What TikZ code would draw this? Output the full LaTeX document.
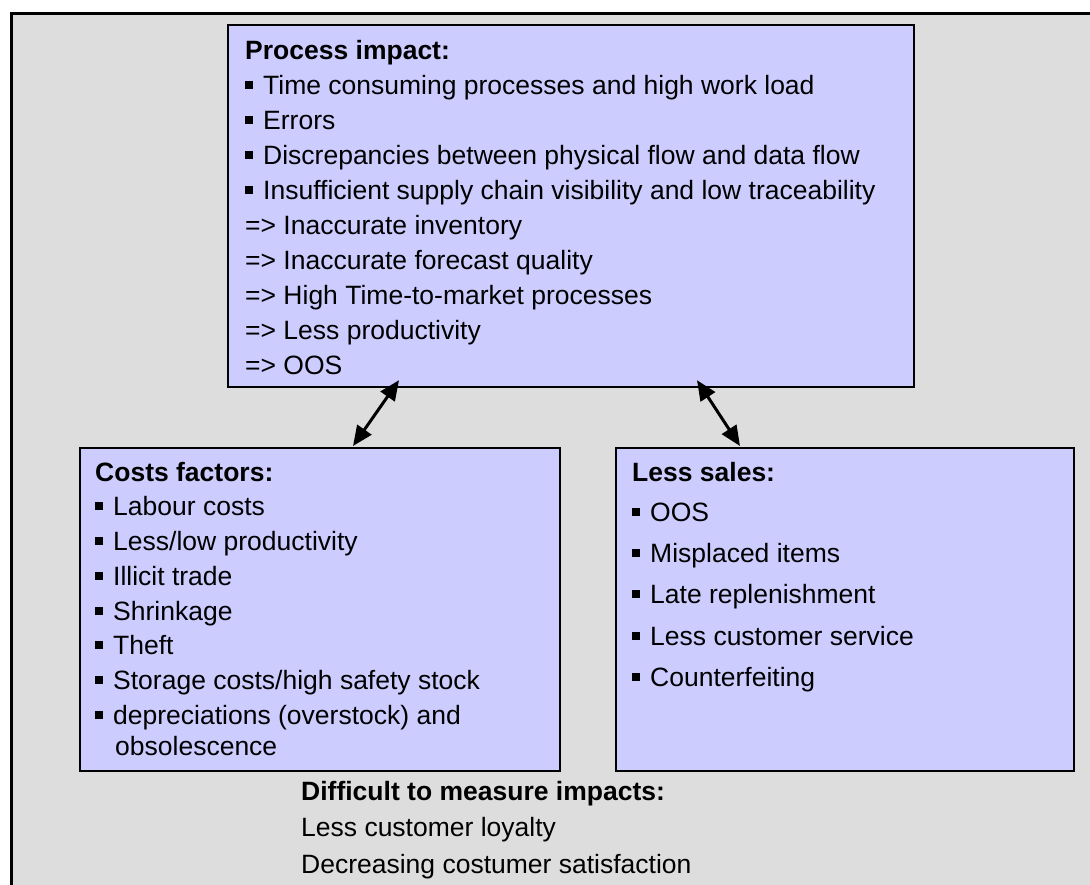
\documentclass[tikz,border=0pt]{standalone}
\usepackage{fontspec}
\setmainfont{Liberation Sans}
\usetikzlibrary{calc,arrows.meta}
\definecolor{bgray}{HTML}{DDDDDD}
\definecolor{lilac}{HTML}{CCCCFF}
\newcommand\bsq{\makebox[18pt][l]{\rule[5.5pt]{7.5pt}{8pt}}}
\newcommand\topst{\rule{0pt}{24.5pt}}
\begin{document}
\begin{tikzpicture}[x=1pt,y=-1pt,
  box/.style={draw=black,line width=2.2pt,fill=lilac,inner sep=0pt,anchor=north west},
  txt/.style={anchor=north west,inner sep=0pt,align=left},
  dbl/.style={{Triangle[length=20pt,width=17pt]}-{Triangle[length=20pt,width=17pt]},line width=3pt}]
\useasboundingbox (0,0) rectangle (1090,884);
\clip (0,0) rectangle (1090,884);
\fill[bgray] (11,13) rectangle (1100,900);
\draw[line width=3pt] (1100,13) -- (11,13) -- (11,900);
% boxes
\node[box,minimum width=686pt,minimum height=362pt] (proc) at (227,24) {};
\node[box,minimum width=480pt,minimum height=323pt] (cost) at (79,447) {};
\node[box,minimum width=458pt,minimum height=323pt] (sales) at (615,447) {};
% texts
\node[txt,font=\fontsize{26.5}{35}\selectfont] (proct) at (245,34.5) {\topst\textbf{Process impact:}\\
\bsq Time consuming processes and high work load\\
\bsq Errors\\
\bsq Discrepancies between physical flow and data flow\\
\bsq Insufficient supply chain visibility and low traceability\\
=> Inaccurate inventory\\
=> Inaccurate forecast quality\\
=> High Time-to-market processes\\
=> Less productivity\\
=> OOS};
\node[txt,font=\fontsize{26.5}{34.7}\selectfont] (costt) at (95,456.5) {\topst\textbf{Costs factors:}\\
\bsq Labour costs\\
\bsq Less/low productivity\\
\bsq Illicit trade\\
\bsq Shrinkage\\
\bsq Theft\\
\bsq Storage costs/high safety stock\\
\bsq depreciations (overstock) and\\[-3.7pt]
\hspace*{20pt}obsolescence};
\node[txt,font=\fontsize{26.5}{41.3}\selectfont] (salest) at (632,456.5) {\topst\textbf{Less sales:}\\[-1.3pt]
\bsq OOS\\
\bsq Misplaced items\\
\bsq Late replenishment\\
\bsq Less customer service\\
\bsq Counterfeiting};
\node[txt,font=\fontsize{26.5}{36.5}\selectfont] (diff) at (301,775.5) {\topst\textbf{Difficult to measure impacts:}\\
Less customer loyalty\\
Decreasing costumer satisfaction};
% connectors
\draw[dbl] ($(proc.south west)+(172,-8)$) -- ($(cost.north west)+(274,-1)$);
\draw[dbl] ($(proc.south west)+(470,-8)$) -- ($(sales.north west)+(125,-1)$);
\end{tikzpicture}
\end{document}
